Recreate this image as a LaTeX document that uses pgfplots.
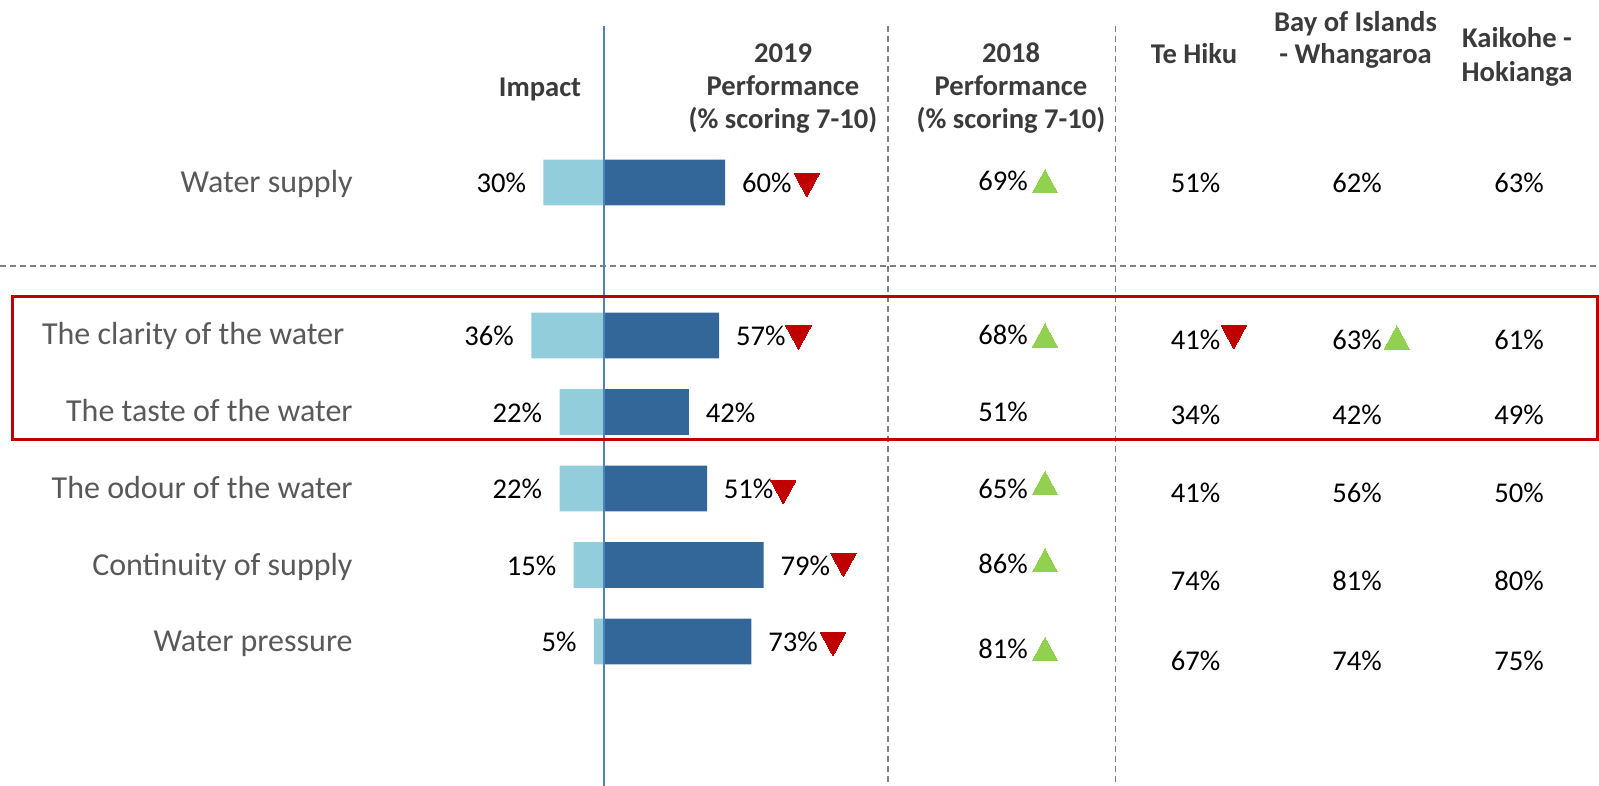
\documentclass[border=0pt]{standalone}
\usepackage{pgfplots}
\pgfplotsset{compat=1.18}
\usepackage{pgfplotstable}
\usepackage{fontspec}
\setmainfont{Carlito}
\definecolor{darkbar}{HTML}{336699}
\definecolor{lightbar}{HTML}{92CDDC}
\definecolor{zeroblue}{HTML}{4F81BD}
\definecolor{redmk}{HTML}{C00000}
\definecolor{greenmk}{HTML}{92D050}
\definecolor{gridgrey}{HTML}{808080}
\definecolor{labelgrey}{HTML}{595959}
\definecolor{headgrey}{HTML}{3B3B3B}

% bars: row index, impact (%), 2019 performance (%)
\pgfplotstableread{
row imp perf
0 30 60
2 36 57
3 22 42
4 22 51
5 15 79
6 5 73
}\bardata

% 2018 performance (x, baseline y in pixel axis, value)
\pgfplotstableread{
x y v
1003 191.0 69
1003 344.5 68
1003 421.0 51
1003 498.0 65
1003 573.3 86
1003 658.3 81
}\perfeighteen

% ward results
\pgfplotstableread{
x y v
1195.5 192.5 51
1357 192.5 62
1519 192.5 63
1195.5 349.5 41
1357 349.5 63
1519 349.5 61
1195.5 424 34
1357 424 42
1519 424 49
1195.5 502.5 41
1357 502.5 56
1519 502.5 50
1195.5 590 74
1357 590 81
1519 590 80
1195.5 670 67
1357 670 74
1519 670 75
}\wards

% significance markers (pixel axis)
\pgfplotstableread{
x y
806.8 181.2
798.5 333.7
783.3 488.2
843.4 561.2
833.0 640.2
1233.8 333.2
}\downtri
\pgfplotstableread{
x y
1045 185.1
1045 339.3
1045 486.8
1045 564.2
1045 652.8
1396.8 341.3
}\uptri

\begin{document}
\begin{tikzpicture}
\pgfplotsset{base/.style={width=799.5pt,height=393pt,scale only axis,hide axis,clip=false,at={(0,0)},anchor=south west}}
\begin{axis}[base, xmin=-299.01, xmax=492.57, ymin=-2.386, ymax=7.889, y dir=reverse]
\addplot[xbar, bar width=0.6, bar shift=0pt, fill=lightbar, draw=none,
  point meta=explicit,
  nodes near coords={\pgfmathprintnumber[assume math mode=true]{\pgfplotspointmeta}\%},
  every node near coord/.append style={anchor=base east, inner sep=0pt, xshift=-8.5pt, yshift=-5pt, font=\fontsize{14.3}{16}\selectfont, text=black}]
  table[x expr=-\thisrow{imp}, y=row, meta=imp]{\bardata};
\addplot[xbar, bar width=0.6, bar shift=0pt, fill=darkbar, draw=none,
  point meta=explicit,
  nodes near coords={\pgfmathprintnumber[assume math mode=true]{\pgfplotspointmeta}\%},
  every node near coord/.append style={anchor=base west, inner sep=0pt, xshift=8.25pt, yshift=-5pt, font=\fontsize{14.3}{16}\selectfont, text=black}]
  table[x=perf, y=row, meta=perf]{\bardata};
\end{axis}

\begin{axis}[base, xmin=0, xmax=1599, ymin=0, ymax=786, y dir=reverse]
% separators
\addplot[draw=gridgrey, line width=0.75pt, dash pattern=on 3pt off 2pt] coordinates {(888,26) (888,786)};
\addplot[draw=gridgrey, line width=0.75pt, dash pattern=on 3pt off 2pt] coordinates {(1115.6,26) (1115.6,786)};
\addplot[draw=gridgrey, line width=0.75pt, dash pattern=on 3pt off 2pt] coordinates {(0,266) (1599,266)};
\addplot[draw=zeroblue, line width=0.9pt] coordinates {(604,26) (604,786)};
\addplot[draw=redmk, line width=1.4pt] coordinates {(12.7,296.5) (1597.5,296.5) (1597.5,439.5) (12.7,439.5)} --cycle;
% markers
\addplot[only marks, color=redmk, mark=triangle*, mark size=7.3pt, mark options={fill=redmk, draw=redmk, line width=0pt, rotate=180, yscale=1.065}] table[x=x,y=y]{\downtri};
\addplot[only marks, color=greenmk, mark=triangle*, mark size=7.3pt, mark options={fill=greenmk, draw=greenmk, line width=0pt, yscale=1.065}] table[x=x,y=y]{\uptri};
% value columns
\addplot[only marks, mark=*, mark size=0pt, mark options={draw=none, fill=none}, point meta=explicit,
  nodes near coords={\pgfmathprintnumber[assume math mode=true]{\pgfplotspointmeta}\%},
  every node near coord/.append style={anchor=base, inner sep=0pt, font=\fontsize{14.3}{16}\selectfont, text=black}]
  table[x=x, y=y, meta=v]{\perfeighteen};
\addplot[only marks, mark=*, mark size=0pt, mark options={draw=none, fill=none}, point meta=explicit,
  nodes near coords={\pgfmathprintnumber[assume math mode=true]{\pgfplotspointmeta}\%},
  every node near coord/.append style={anchor=base, inner sep=0pt, font=\fontsize{14.3}{16}\selectfont, text=black}]
  table[x=x, y=y, meta=v]{\wards};
% row labels
\begin{scope}[every node/.style={anchor=base east, inner sep=0pt, font=\fontsize{16}{19}\selectfont, text=labelgrey}]
\node at (axis cs:353,192) {Water supply};
\node at (axis cs:344.7,344) {The clarity of the water};
\node at (axis cs:353,421) {The taste of the water};
\node at (axis cs:353,498.5) {The odour of the water};
\node at (axis cs:353,575) {Continuity of supply};
\node at (axis cs:353,651.5) {Water pressure};
\end{scope}
% headers
\begin{scope}[every node/.style={anchor=base, inner sep=0pt, font=\fontsize{14.3}{16}\selectfont\bfseries, text=headgrey}]
\node at (axis cs:540,96.5) {Impact};
\node at (axis cs:783,62.7) {2019};
\node at (axis cs:783,95.5) {Performance};
\node at (axis cs:783,128.3) {(\% scoring 7-10)};
\node at (axis cs:1011,62.7) {2018};
\node at (axis cs:1011,95.5) {Performance};
\node at (axis cs:1011,128.3) {(\% scoring 7-10)};
\node at (axis cs:1194,63.3) {Te Hiku};
\node at (axis cs:1355.5,31.5) {Bay of Islands};
\node at (axis cs:1355.5,63.3) {- Whangaroa};
\node at (axis cs:1517,48) {Kaikohe -};
\node at (axis cs:1517,82) {Hokianga};
\end{scope}
\end{axis}
\pgfresetboundingbox
\path[use as bounding box] (0,0) rectangle (799.5pt,393pt);
\end{tikzpicture}
\end{document}
